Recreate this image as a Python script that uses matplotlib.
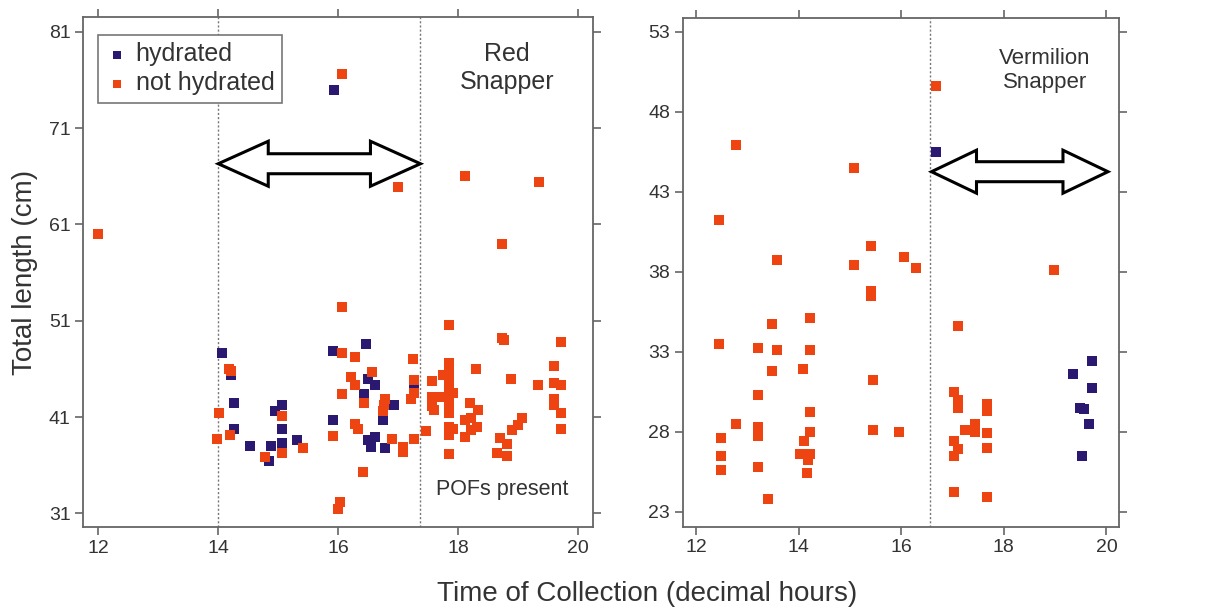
"""Red / Vermilion snapper: total length vs. time of collection, hydrated vs not hydrated."""

from __future__ import annotations

import matplotlib

matplotlib.use("Agg")
import matplotlib.pyplot as plt
from matplotlib.patches import Polygon

plt.rcParams["font.family"] = ["Liberation Sans", "DejaVu Sans"]

ORANGE = "#EE4411"
INDIGO = "#2B1870"
TEXT = "#333333"
SPINE = "#666666"

# ---- Red snapper (left panel) ----
red_hyd_time = [14.06, 14.21, 14.26, 14.26, 14.53, 14.88, 14.85, 14.95, 15.06, 15.06,
                15.06, 15.31, 15.93, 15.92, 16.46, 16.50, 16.62, 17.26, 16.43, 16.93,
                16.75, 15.92, 16.50, 16.61, 16.54, 16.78]
red_hyd_len = [47.7, 45.4, 42.5, 39.8, 38.0, 38.0, 36.4, 41.6, 42.2, 39.8,
               38.3, 38.6, 75.0, 47.9, 48.6, 44.9, 44.3, 44.0, 43.4, 42.2,
               40.7, 40.7, 38.6, 38.9, 37.9, 37.8]

red_not_time = [12.00, 16.07, 17.00, 18.12, 19.35, 18.73,
                14.18, 14.22, 14.02, 14.20, 13.98, 14.78, 15.06, 15.06, 15.42,
                16.07, 16.07, 16.28, 17.25, 16.21, 16.57, 16.28, 17.26, 17.26, 17.21,
                16.07, 16.43, 16.78, 16.76, 16.75, 16.28, 16.33, 15.92, 16.89, 17.08,
                17.08, 17.26, 16.42, 16.03, 16.00,
                17.84, 18.73, 18.77, 19.71, 17.84, 17.84, 17.84, 17.75, 18.30, 17.84,
                17.57, 18.88, 19.60, 19.33, 19.60, 19.72, 17.84, 17.56, 17.70, 17.92,
                17.84, 17.84, 19.60, 19.60, 17.56, 17.60, 18.20, 18.33, 17.84, 19.71,
                18.11, 18.22, 19.06, 19.00, 17.84, 17.92, 18.31, 18.22, 18.89, 19.71,
                17.46, 17.84, 18.11, 18.69, 18.82, 18.65, 18.81, 17.84]
red_not_len = [60.0, 76.6, 64.9, 66.0, 65.4, 59.0,
               46.0, 45.8, 41.4, 39.1, 38.7, 36.9, 41.1, 37.3, 37.8,
               52.4, 47.7, 47.2, 47.0, 45.2, 45.7, 44.3, 44.8, 43.5, 42.9,
               43.4, 42.5, 42.9, 42.2, 41.6, 40.3, 39.8, 39.0, 38.7, 37.9,
               37.4, 38.7, 35.3, 32.2, 31.4,
               50.6, 49.2, 49.0, 48.8, 46.6, 46.0, 45.4, 45.4, 46.0, 44.8,
               44.7, 45.0, 46.3, 44.3, 44.5, 44.3, 44.1, 43.1, 43.1, 43.5,
               43.3, 42.4, 42.9, 42.2, 42.1, 41.7, 42.5, 41.7, 41.4, 41.4,
               40.7, 40.9, 40.9, 40.2, 40.0, 39.8, 40.0, 39.7, 39.7, 39.8,
               39.6, 39.1, 38.9, 38.8, 38.2, 37.3, 37.0, 37.2]

# ---- Vermilion snapper (right panel) ----
ver_hyd_time = [16.68, 19.71, 19.34, 19.71, 19.48, 19.56, 19.66, 19.53]
ver_hyd_len = [45.5, 32.4, 31.6, 30.7, 29.5, 29.4, 28.5, 26.5]

ver_not_time = [16.68, 12.78, 15.08, 12.45, 15.41, 13.57, 16.06, 15.08, 16.28, 15.41,
                15.41, 18.98, 14.22, 13.49, 17.11, 12.45, 13.21, 13.57, 14.22, 13.49,
                14.08, 15.45, 13.21, 17.03, 17.11, 17.11, 17.68, 17.68, 14.22, 12.78,
                13.21, 13.21, 13.21, 14.22, 15.45, 15.95, 17.25, 17.44, 17.44, 17.68,
                17.68, 17.03, 17.11, 17.03, 17.03, 17.68, 12.49, 12.49, 12.49, 13.21,
                13.40, 14.11, 14.03, 14.22, 14.19, 14.16]
ver_not_len = [49.6, 45.9, 44.5, 41.2, 39.6, 38.7, 38.9, 38.4, 38.2, 36.8,
               36.5, 38.1, 35.1, 34.7, 34.6, 33.5, 33.2, 33.1, 33.1, 31.8,
               31.9, 31.2, 30.3, 30.5, 30.0, 29.5, 29.7, 29.3, 29.2, 28.5,
               28.3, 28.0, 27.7, 28.0, 28.1, 28.0, 28.1, 28.5, 28.0, 27.9,
               27.0, 27.4, 26.9, 26.5, 24.2, 23.9, 27.6, 26.5, 25.6, 25.8,
               23.8, 27.4, 26.6, 26.6, 26.2, 25.4]

X_TICKS = [12, 14, 16, 18, 20]
RED_Y_TICKS = [31, 41, 51, 61, 71, 81]
VER_Y_TICKS = [23, 28, 33, 38, 43, 48, 53]


def style_axes(ax, xlim, ylim, yticks) -> None:
    ax.set_xlim(*xlim)
    ax.set_ylim(*ylim)
    ax.set_xticks(X_TICKS)
    ax.set_yticks(yticks)
    ax.tick_params(direction="out", top=True, right=True, length=6, width=1.2,
                   color=SPINE, labelcolor=TEXT, labelsize=14, pad=3)
    for sp in ax.spines.values():
        sp.set_color(SPINE)
        sp.set_linewidth(1.3)


def double_arrow(ax, x0, x1, y, head_len_px, head_half_px, shaft_half_px) -> None:
    """Hollow two-headed arrow; head sizes given in pixels, converted to data units."""
    bbox = ax.get_window_extent()
    (xa, xb), (ya, yb) = ax.get_xlim(), ax.get_ylim()
    sx = (xb - xa) / bbox.width
    sy = (yb - ya) / bbox.height
    hl, hh, sh = head_len_px * sx, head_half_px * sy, shaft_half_px * sy
    pts = [
        (x0, y), (x0 + hl, y + hh), (x0 + hl, y + sh), (x1 - hl, y + sh),
        (x1 - hl, y + hh), (x1, y), (x1 - hl, y - hh), (x1 - hl, y - sh),
        (x0 + hl, y - sh), (x0 + hl, y - hh),
    ]
    ax.add_patch(Polygon(pts, closed=True, facecolor="white", edgecolor="black",
                         linewidth=2.2, zorder=4))


def main() -> None:
    fig = plt.figure(figsize=(12.1, 6.09), dpi=100)
    ax1 = fig.add_axes([0.0688, 0.1346, 0.4210, 0.8374])
    ax2 = fig.add_axes([0.5642, 0.1351, 0.3606, 0.8349])

    ms = 42
    # left panel
    style_axes(ax1, (11.75, 20.24), (29.58, 82.53), RED_Y_TICKS)
    for xv in (14.0, 17.37):
        ax1.axvline(xv, color="#777777", lw=1, ls=(0, (1.5, 1.5)), zorder=1)
    ax1.scatter(red_hyd_time, red_hyd_len, s=ms, marker="s", color=INDIGO,
                linewidths=0, zorder=3, label="hydrated")
    ax1.scatter(red_not_time, red_not_len, s=ms, marker="s", color=ORANGE,
                linewidths=0, zorder=3, label="not hydrated")
    ax1.text(18.81, 77.2, "Red\nSnapper", ha="center", va="center", fontsize=18,
             color=TEXT, linespacing=1.2)
    ax1.text(18.74, 33.5, "POFs present", ha="center", va="center", fontsize=15.5,
             color=TEXT)
    leg = ax1.legend(loc="upper left", bbox_to_anchor=(0.029, 0.965), borderaxespad=0,
                     fontsize=18, markerscale=0.85, handlelength=0.9, handletextpad=0.3,
                     labelspacing=0.2, borderpad=0.3, fancybox=False, framealpha=1)
    leg.get_frame().set_edgecolor("#777777")
    leg.get_frame().set_linewidth(1.2)
    for t in leg.get_texts():
        t.set_color(TEXT)
    ax1.set_ylabel("Total length (cm)", fontsize=20, color=TEXT, labelpad=8)

    # right panel
    style_axes(ax2, (11.74, 20.245), (22.06, 53.84), VER_Y_TICKS)
    ax2.axvline(16.56, color="#777777", lw=1, ls=(0, (1.5, 1.5)), zorder=1)
    ax2.scatter(ver_hyd_time, ver_hyd_len, s=ms, marker="s", color=INDIGO,
                linewidths=0, zorder=3)
    ax2.scatter(ver_not_time, ver_not_len, s=ms, marker="s", color=ORANGE,
                linewidths=0, zorder=3)
    ax2.text(18.8, 50.6, "Vermilion\nSnapper", ha="center", va="center", fontsize=16,
             color=TEXT, linespacing=1.2)

    double_arrow(ax1, 14.0, 17.37, 67.3, 50, 22.5, 10)
    double_arrow(ax2, 16.59, 20.03, 44.25, 45, 21.5, 10)

    fig.text(0.535, 0.025, "Time of Collection (decimal hours)", ha="center",
             va="center", fontsize=20, color=TEXT)

    fig.savefig("out.png", dpi=100)
    plt.close(fig)


if __name__ == "__main__":
    main()
